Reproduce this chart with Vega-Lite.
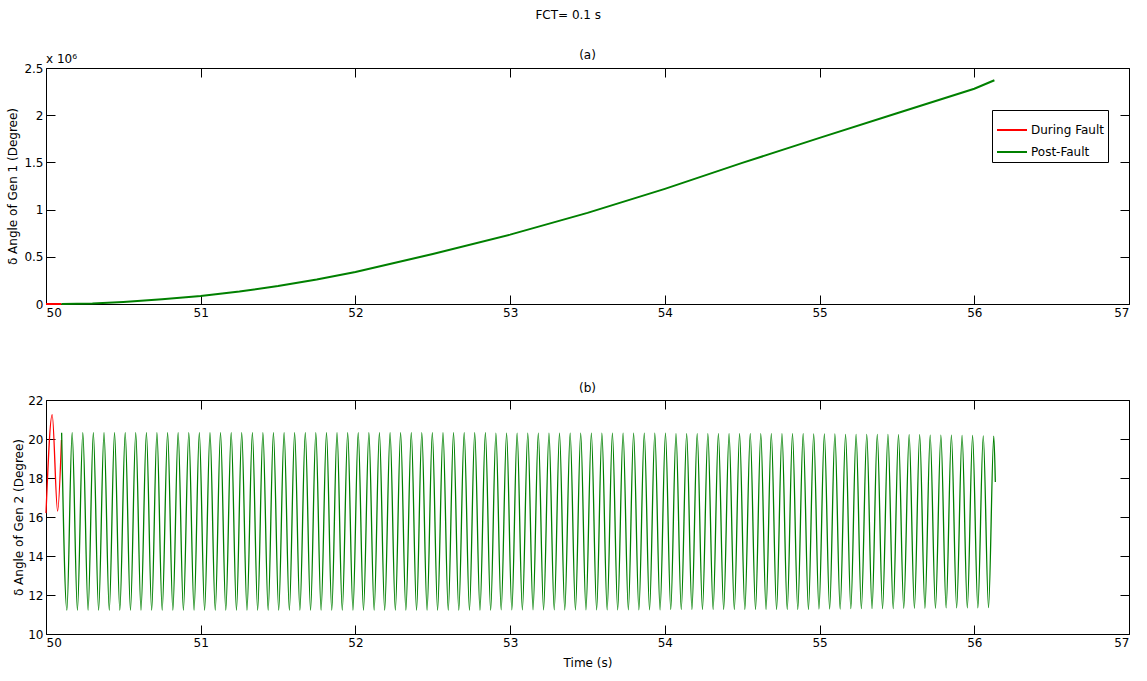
{
  "$schema": "https://vega.github.io/schema/vega-lite/v6.json",
  "background": "white",
  "padding": {"left": 6, "top": 8, "right": 8, "bottom": 5},
  "title": {"text": "FCT= 0.1 s", "font": "DejaVu Sans", "fontSize": 12, "fontWeight": "normal", "color": "black", "anchor": "middle", "offset": 27},
  "config": {
    "view": {"stroke": "black", "strokeWidth": 1},
    "font": "DejaVu Sans",
    "axis": {
      "grid": false, "domain": false, "tickColor": "black", "tickSize": -9, "tickWidth": 1,
      "labelColor": "black", "labelFont": "DejaVu Sans", "labelFontSize": 12, "labelPadding": 3,
      "titleColor": "black", "titleFont": "DejaVu Sans", "titleFontSize": 12, "titleFontWeight": "normal"
    },
    "title": {"font": "DejaVu Sans", "fontSize": 12, "fontWeight": "normal", "color": "black"}
  },
  "datasets": {
    "a": [
      {"t": 50.0, "v": 0, "s": "During Fault"},
      {"t": 50.1, "v": 0, "s": "During Fault"},
      {"t": 50.1, "v": 0, "s": "Post-Fault"},
      {"t": 50.3, "v": 5000, "s": "Post-Fault"},
      {"t": 50.5, "v": 22000, "s": "Post-Fault"},
      {"t": 50.75, "v": 50000, "s": "Post-Fault"},
      {"t": 51.0, "v": 85000, "s": "Post-Fault"},
      {"t": 51.25, "v": 132000, "s": "Post-Fault"},
      {"t": 51.5, "v": 190000, "s": "Post-Fault"},
      {"t": 51.75, "v": 260000, "s": "Post-Fault"},
      {"t": 52.0, "v": 340000, "s": "Post-Fault"},
      {"t": 52.5, "v": 530000, "s": "Post-Fault"},
      {"t": 53.0, "v": 735000, "s": "Post-Fault"},
      {"t": 53.5, "v": 965000, "s": "Post-Fault"},
      {"t": 54.0, "v": 1220000, "s": "Post-Fault"},
      {"t": 54.5, "v": 1495000, "s": "Post-Fault"},
      {"t": 55.0, "v": 1760000, "s": "Post-Fault"},
      {"t": 55.5, "v": 2020000, "s": "Post-Fault"},
      {"t": 56.0, "v": 2280000, "s": "Post-Fault"},
      {"t": 56.13, "v": 2370000, "s": "Post-Fault"}
    ],
    "b": [
      {"t": 50.0, "v": 16.2, "s": "During Fault"},
      {"t": 50.04, "v": 21.25, "s": "During Fault"},
      {"t": 50.075, "v": 16.3, "s": "During Fault"},
      {"t": 50.1, "v": 19.95, "s": "During Fault"},
      {"t": 50.101, "v": 20.32, "s": "Post-Fault"},
      {"t": 50.135, "v": 11.22, "s": "Post-Fault"},
      {"t": 50.169, "v": 20.32, "s": "Post-Fault"},
      {"t": 50.203, "v": 11.22, "s": "Post-Fault"},
      {"t": 50.238, "v": 20.32, "s": "Post-Fault"},
      {"t": 50.272, "v": 11.22, "s": "Post-Fault"},
      {"t": 50.306, "v": 20.32, "s": "Post-Fault"},
      {"t": 50.340, "v": 11.22, "s": "Post-Fault"},
      {"t": 50.375, "v": 20.32, "s": "Post-Fault"},
      {"t": 50.409, "v": 11.22, "s": "Post-Fault"},
      {"t": 50.443, "v": 20.32, "s": "Post-Fault"},
      {"t": 50.477, "v": 11.22, "s": "Post-Fault"},
      {"t": 50.512, "v": 20.32, "s": "Post-Fault"},
      {"t": 50.546, "v": 11.22, "s": "Post-Fault"},
      {"t": 50.580, "v": 20.32, "s": "Post-Fault"},
      {"t": 50.614, "v": 11.22, "s": "Post-Fault"},
      {"t": 50.649, "v": 20.32, "s": "Post-Fault"},
      {"t": 50.683, "v": 11.22, "s": "Post-Fault"},
      {"t": 50.717, "v": 20.32, "s": "Post-Fault"},
      {"t": 50.751, "v": 11.22, "s": "Post-Fault"},
      {"t": 50.786, "v": 20.32, "s": "Post-Fault"},
      {"t": 50.820, "v": 11.22, "s": "Post-Fault"},
      {"t": 50.854, "v": 20.32, "s": "Post-Fault"},
      {"t": 50.888, "v": 11.22, "s": "Post-Fault"},
      {"t": 50.923, "v": 20.32, "s": "Post-Fault"},
      {"t": 50.957, "v": 11.22, "s": "Post-Fault"},
      {"t": 50.991, "v": 20.32, "s": "Post-Fault"},
      {"t": 51.025, "v": 11.22, "s": "Post-Fault"},
      {"t": 51.060, "v": 20.32, "s": "Post-Fault"},
      {"t": 51.094, "v": 11.22, "s": "Post-Fault"},
      {"t": 51.128, "v": 20.32, "s": "Post-Fault"},
      {"t": 51.162, "v": 11.22, "s": "Post-Fault"},
      {"t": 51.197, "v": 20.32, "s": "Post-Fault"},
      {"t": 51.231, "v": 11.22, "s": "Post-Fault"},
      {"t": 51.265, "v": 20.32, "s": "Post-Fault"},
      {"t": 51.299, "v": 11.22, "s": "Post-Fault"},
      {"t": 51.334, "v": 20.32, "s": "Post-Fault"},
      {"t": 51.368, "v": 11.22, "s": "Post-Fault"},
      {"t": 51.402, "v": 20.32, "s": "Post-Fault"},
      {"t": 51.436, "v": 11.22, "s": "Post-Fault"},
      {"t": 51.470, "v": 20.32, "s": "Post-Fault"},
      {"t": 51.504, "v": 11.22, "s": "Post-Fault"},
      {"t": 51.539, "v": 20.32, "s": "Post-Fault"},
      {"t": 51.573, "v": 11.22, "s": "Post-Fault"},
      {"t": 51.607, "v": 20.32, "s": "Post-Fault"},
      {"t": 51.641, "v": 11.22, "s": "Post-Fault"},
      {"t": 51.676, "v": 20.32, "s": "Post-Fault"},
      {"t": 51.710, "v": 11.22, "s": "Post-Fault"},
      {"t": 51.744, "v": 20.32, "s": "Post-Fault"},
      {"t": 51.778, "v": 11.22, "s": "Post-Fault"},
      {"t": 51.813, "v": 20.32, "s": "Post-Fault"},
      {"t": 51.847, "v": 11.22, "s": "Post-Fault"},
      {"t": 51.881, "v": 20.32, "s": "Post-Fault"},
      {"t": 51.915, "v": 11.22, "s": "Post-Fault"},
      {"t": 51.950, "v": 20.32, "s": "Post-Fault"},
      {"t": 51.984, "v": 11.22, "s": "Post-Fault"},
      {"t": 52.018, "v": 20.32, "s": "Post-Fault"},
      {"t": 52.052, "v": 11.22, "s": "Post-Fault"},
      {"t": 52.087, "v": 20.32, "s": "Post-Fault"},
      {"t": 52.121, "v": 11.22, "s": "Post-Fault"},
      {"t": 52.155, "v": 20.32, "s": "Post-Fault"},
      {"t": 52.189, "v": 11.22, "s": "Post-Fault"},
      {"t": 52.224, "v": 20.32, "s": "Post-Fault"},
      {"t": 52.258, "v": 11.22, "s": "Post-Fault"},
      {"t": 52.292, "v": 20.32, "s": "Post-Fault"},
      {"t": 52.326, "v": 11.22, "s": "Post-Fault"},
      {"t": 52.361, "v": 20.32, "s": "Post-Fault"},
      {"t": 52.395, "v": 11.22, "s": "Post-Fault"},
      {"t": 52.429, "v": 20.32, "s": "Post-Fault"},
      {"t": 52.463, "v": 11.22, "s": "Post-Fault"},
      {"t": 52.497, "v": 20.32, "s": "Post-Fault"},
      {"t": 52.531, "v": 11.22, "s": "Post-Fault"},
      {"t": 52.566, "v": 20.32, "s": "Post-Fault"},
      {"t": 52.600, "v": 11.22, "s": "Post-Fault"},
      {"t": 52.634, "v": 20.32, "s": "Post-Fault"},
      {"t": 52.668, "v": 11.22, "s": "Post-Fault"},
      {"t": 52.703, "v": 20.32, "s": "Post-Fault"},
      {"t": 52.737, "v": 11.22, "s": "Post-Fault"},
      {"t": 52.771, "v": 20.32, "s": "Post-Fault"},
      {"t": 52.805, "v": 11.22, "s": "Post-Fault"},
      {"t": 52.840, "v": 20.32, "s": "Post-Fault"},
      {"t": 52.874, "v": 11.22, "s": "Post-Fault"},
      {"t": 52.908, "v": 20.3, "s": "Post-Fault"},
      {"t": 52.942, "v": 11.24, "s": "Post-Fault"},
      {"t": 52.977, "v": 20.3, "s": "Post-Fault"},
      {"t": 53.011, "v": 11.24, "s": "Post-Fault"},
      {"t": 53.045, "v": 20.3, "s": "Post-Fault"},
      {"t": 53.079, "v": 11.24, "s": "Post-Fault"},
      {"t": 53.114, "v": 20.3, "s": "Post-Fault"},
      {"t": 53.148, "v": 11.24, "s": "Post-Fault"},
      {"t": 53.182, "v": 20.3, "s": "Post-Fault"},
      {"t": 53.216, "v": 11.24, "s": "Post-Fault"},
      {"t": 53.251, "v": 20.3, "s": "Post-Fault"},
      {"t": 53.285, "v": 11.24, "s": "Post-Fault"},
      {"t": 53.319, "v": 20.3, "s": "Post-Fault"},
      {"t": 53.353, "v": 11.24, "s": "Post-Fault"},
      {"t": 53.388, "v": 20.3, "s": "Post-Fault"},
      {"t": 53.422, "v": 11.24, "s": "Post-Fault"},
      {"t": 53.456, "v": 20.3, "s": "Post-Fault"},
      {"t": 53.490, "v": 11.24, "s": "Post-Fault"},
      {"t": 53.525, "v": 20.3, "s": "Post-Fault"},
      {"t": 53.559, "v": 11.24, "s": "Post-Fault"},
      {"t": 53.593, "v": 20.3, "s": "Post-Fault"},
      {"t": 53.627, "v": 11.24, "s": "Post-Fault"},
      {"t": 53.661, "v": 20.3, "s": "Post-Fault"},
      {"t": 53.695, "v": 11.24, "s": "Post-Fault"},
      {"t": 53.730, "v": 20.3, "s": "Post-Fault"},
      {"t": 53.764, "v": 11.24, "s": "Post-Fault"},
      {"t": 53.798, "v": 20.3, "s": "Post-Fault"},
      {"t": 53.832, "v": 11.24, "s": "Post-Fault"},
      {"t": 53.867, "v": 20.3, "s": "Post-Fault"},
      {"t": 53.901, "v": 11.24, "s": "Post-Fault"},
      {"t": 53.935, "v": 20.3, "s": "Post-Fault"},
      {"t": 53.969, "v": 11.24, "s": "Post-Fault"},
      {"t": 54.004, "v": 20.3, "s": "Post-Fault"},
      {"t": 54.038, "v": 11.26, "s": "Post-Fault"},
      {"t": 54.072, "v": 20.28, "s": "Post-Fault"},
      {"t": 54.106, "v": 11.26, "s": "Post-Fault"},
      {"t": 54.141, "v": 20.28, "s": "Post-Fault"},
      {"t": 54.175, "v": 11.26, "s": "Post-Fault"},
      {"t": 54.209, "v": 20.28, "s": "Post-Fault"},
      {"t": 54.243, "v": 11.26, "s": "Post-Fault"},
      {"t": 54.278, "v": 20.28, "s": "Post-Fault"},
      {"t": 54.312, "v": 11.26, "s": "Post-Fault"},
      {"t": 54.346, "v": 20.28, "s": "Post-Fault"},
      {"t": 54.380, "v": 11.26, "s": "Post-Fault"},
      {"t": 54.415, "v": 20.28, "s": "Post-Fault"},
      {"t": 54.449, "v": 11.26, "s": "Post-Fault"},
      {"t": 54.483, "v": 20.28, "s": "Post-Fault"},
      {"t": 54.517, "v": 11.26, "s": "Post-Fault"},
      {"t": 54.552, "v": 20.28, "s": "Post-Fault"},
      {"t": 54.586, "v": 11.26, "s": "Post-Fault"},
      {"t": 54.620, "v": 20.28, "s": "Post-Fault"},
      {"t": 54.654, "v": 11.26, "s": "Post-Fault"},
      {"t": 54.688, "v": 20.28, "s": "Post-Fault"},
      {"t": 54.722, "v": 11.26, "s": "Post-Fault"},
      {"t": 54.757, "v": 20.28, "s": "Post-Fault"},
      {"t": 54.791, "v": 11.26, "s": "Post-Fault"},
      {"t": 54.825, "v": 20.28, "s": "Post-Fault"},
      {"t": 54.859, "v": 11.26, "s": "Post-Fault"},
      {"t": 54.894, "v": 20.28, "s": "Post-Fault"},
      {"t": 54.928, "v": 11.26, "s": "Post-Fault"},
      {"t": 54.962, "v": 20.26, "s": "Post-Fault"},
      {"t": 54.996, "v": 11.28, "s": "Post-Fault"},
      {"t": 55.031, "v": 20.26, "s": "Post-Fault"},
      {"t": 55.065, "v": 11.28, "s": "Post-Fault"},
      {"t": 55.099, "v": 20.26, "s": "Post-Fault"},
      {"t": 55.133, "v": 11.28, "s": "Post-Fault"},
      {"t": 55.168, "v": 20.24, "s": "Post-Fault"},
      {"t": 55.202, "v": 11.3, "s": "Post-Fault"},
      {"t": 55.236, "v": 20.24, "s": "Post-Fault"},
      {"t": 55.270, "v": 11.3, "s": "Post-Fault"},
      {"t": 55.305, "v": 20.24, "s": "Post-Fault"},
      {"t": 55.339, "v": 11.3, "s": "Post-Fault"},
      {"t": 55.373, "v": 20.24, "s": "Post-Fault"},
      {"t": 55.407, "v": 11.3, "s": "Post-Fault"},
      {"t": 55.442, "v": 20.24, "s": "Post-Fault"},
      {"t": 55.476, "v": 11.3, "s": "Post-Fault"},
      {"t": 55.510, "v": 20.22, "s": "Post-Fault"},
      {"t": 55.544, "v": 11.32, "s": "Post-Fault"},
      {"t": 55.579, "v": 20.22, "s": "Post-Fault"},
      {"t": 55.613, "v": 11.32, "s": "Post-Fault"},
      {"t": 55.647, "v": 20.22, "s": "Post-Fault"},
      {"t": 55.681, "v": 11.32, "s": "Post-Fault"},
      {"t": 55.715, "v": 20.2, "s": "Post-Fault"},
      {"t": 55.749, "v": 11.32, "s": "Post-Fault"},
      {"t": 55.784, "v": 20.2, "s": "Post-Fault"},
      {"t": 55.818, "v": 11.34, "s": "Post-Fault"},
      {"t": 55.852, "v": 20.2, "s": "Post-Fault"},
      {"t": 55.886, "v": 11.34, "s": "Post-Fault"},
      {"t": 55.921, "v": 20.18, "s": "Post-Fault"},
      {"t": 55.955, "v": 11.34, "s": "Post-Fault"},
      {"t": 55.989, "v": 20.18, "s": "Post-Fault"},
      {"t": 56.023, "v": 11.34, "s": "Post-Fault"},
      {"t": 56.058, "v": 20.16, "s": "Post-Fault"},
      {"t": 56.092, "v": 11.35, "s": "Post-Fault"},
      {"t": 56.126, "v": 20.15, "s": "Post-Fault"},
      {"t": 56.136, "v": 17.8, "s": "Post-Fault"}
    ]
  },
  "spacing": 62,
  "vconcat": [
    {
      "title": {"text": "(a)", "offset": -9},
      "width": 1083,
      "height": 236,
      "layer": [
        {
          "data": {"name": "a"},
          "mark": {"type": "line", "strokeWidth": 2},
          "encoding": {
            "x": {"field": "t", "type": "quantitative", "scale": {"domain": [50, 57], "nice": false, "zero": false},
                  "axis": {"title": null, "values": [50, 51, 52, 53, 54, 55, 56, 57], "orient": "bottom", "labelPadding": 12}},
            "y": {"field": "v", "type": "quantitative", "scale": {"domain": [0, 2500000], "nice": false},
                  "axis": {"title": "δ Angle of Gen 1 (Degree)", "values": [0, 500000, 1000000, 1500000, 2000000, 2500000],
                           "labelExpr": "datum.value / 1000000", "orient": "left", "labelPadding": 12, "titlePadding": 4}},
            "color": {"field": "s", "type": "nominal",
                      "scale": {"domain": ["During Fault", "Post-Fault"], "range": ["#ff0000", "#008000"]},
                      "legend": {"title": null, "orient": "none", "legendX": 946, "legendY": 42,
                                 "strokeColor": "black", "fillColor": "white", "padding": 4,
                                 "symbolType": "stroke", "symbolSize": 900, "symbolStrokeWidth": 2,
                                 "labelFont": "DejaVu Sans", "labelFontSize": 12, "labelColor": "black",
                                 "rowPadding": -2, "labelOffset": 3}}
          }
        },
        {
          "data": {"name": "a"},
          "mark": {"type": "point", "opacity": 0},
          "encoding": {
            "x": {"field": "t", "type": "quantitative", "scale": {"domain": [50, 57], "nice": false, "zero": false},
                  "axis": {"title": null, "values": [50, 51, 52, 53, 54, 55, 56, 57], "orient": "top", "labels": false}},
            "y": {"field": "v", "type": "quantitative", "scale": {"domain": [0, 2500000], "nice": false},
                  "axis": {"title": null, "values": [0, 500000, 1000000, 1500000, 2000000, 2500000], "orient": "right", "labels": false}}
          }
        },
        {
          "data": {"values": [{"label": "x 10⁶"}]},
          "mark": {"type": "text", "align": "left", "baseline": "bottom", "dy": -2, "fontSize": 12, "color": "black"},
          "encoding": {
            "x": {"datum": 50, "type": "quantitative", "axis": null},
            "y": {"datum": 2500000, "type": "quantitative", "axis": null},
            "text": {"field": "label"}
          }
        }
      ],
      "resolve": {"axis": {"x": "independent", "y": "independent"}}
    },
    {
      "title": {"text": "(b)", "offset": -1},
      "width": 1083,
      "height": 234,
      "data": {"name": "b"},
      "layer": [
        {
          "mark": {"type": "line", "strokeWidth": 1.3, "interpolate": "monotone"},
          "encoding": {
            "x": {"field": "t", "type": "quantitative", "scale": {"domain": [50, 57], "nice": false, "zero": false},
                  "axis": {"title": "Time (s)", "values": [50, 51, 52, 53, 54, 55, 56, 57], "orient": "bottom", "labelPadding": 12, "titlePadding": 9}},
            "y": {"field": "v", "type": "quantitative", "scale": {"domain": [10, 22], "nice": false, "zero": false},
                  "axis": {"title": "δ Angle of Gen 2 (Degree)", "values": [10, 12, 14, 16, 18, 20, 22], "orient": "left", "labelPadding": 12, "titlePadding": 2}},
            "color": {"field": "s", "type": "nominal",
                      "scale": {"domain": ["During Fault", "Post-Fault"], "range": ["#ff0000", "#008000"]},
                      "legend": null}
          }
        },
        {
          "mark": {"type": "point", "opacity": 0},
          "encoding": {
            "x": {"field": "t", "type": "quantitative", "scale": {"domain": [50, 57], "nice": false, "zero": false},
                  "axis": {"title": null, "values": [50, 51, 52, 53, 54, 55, 56, 57], "orient": "top", "labels": false}},
            "y": {"field": "v", "type": "quantitative", "scale": {"domain": [10, 22], "nice": false, "zero": false},
                  "axis": {"title": null, "values": [10, 12, 14, 16, 18, 20, 22], "orient": "right", "labels": false}}
          }
        }
      ],
      "resolve": {"axis": {"x": "independent", "y": "independent"}}
    }
  ]
}
